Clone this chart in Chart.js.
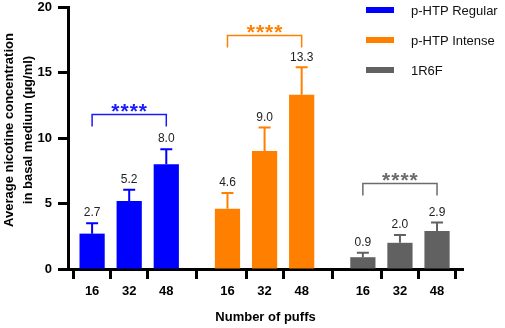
<!DOCTYPE html>
<html>
<head>
<meta charset="utf-8">
<script src="https://cdn.jsdelivr.net/npm/chart.js@4"></script>
<style>
  html, body { margin: 0; padding: 0; background: #fff; }
  #wrap { width: 505px; height: 328px; }
</style>
</head>
<body>
<div id="wrap"><canvas id="myChart" width="505" height="328"></canvas></div>
<script>
// data
const puffLabels = ["16", "32", "48"];
const productNames = ["p-HTP Regular", "p-HTP Intense", "1R6F"];
const regularMeans = [2.7, 5.2, 8.0];
const regularSD = [0.8, 0.85, 1.15];
const intenseMeans = [4.6, 9.0, 13.3];
const intenseSD = [1.2, 1.8, 2.1];
const refMeans = [0.9, 2.0, 2.9];
const refSD = [0.35, 0.6, 0.65];
const bracketLevels = [11.8, 17.9, 6.6];
const yTicks = [0, 5, 10, 15, 20];
const yTitle = ["Average nicotine concentration", "in basal medium (\u00b5g/ml)"];

const colors = ["#0000ff", "#ff8000", "#616161"];
const starColors = ["#1a1aff", "#ff8000", "#6b6b6b"];
const FONT = "'Liberation Sans', Arial, sans-serif";

// x position of each bar: groups of three, wider gap between groups
const groupStep = 3.65;
const xPos = (g, i) => g * groupStep + i;
const tickPositions = [];
[0, 1, 2].forEach((g) => puffLabels.forEach((p, i) => tickPositions.push(xPos(g, i))));

const means = [regularMeans, intenseMeans, refMeans];
const sds = [regularSD, intenseSD, refSD];

const datasets = productNames.map((name, g) => ({
  label: name,
  data: means[g].map((v, i) => ({ x: xPos(g, i), y: v })),
  sd: sds[g],
  backgroundColor: colors[g],
  borderWidth: 0,
  barPercentage: 0.68,
  categoryPercentage: 1,
  grouped: false,
}));

// error bars, value labels, brackets, legend, y title
const extras = {
  id: "extras",
  afterDatasetsDraw(chart) {
    const ctx = chart.ctx;
    const y = chart.scales.y;
    ctx.save();
    chart.data.datasets.forEach((ds, g) => {
      const meta = chart.getDatasetMeta(g);
      meta.data.forEach((bar, i) => {
        const yCap = y.getPixelForValue(ds.data[i].y + ds.sd[i]);
        ctx.strokeStyle = ds.backgroundColor;
        ctx.lineWidth = 2;
        ctx.beginPath();
        ctx.moveTo(bar.x, bar.y);
        ctx.lineTo(bar.x, yCap);
        ctx.moveTo(bar.x - 6, yCap);
        ctx.lineTo(bar.x + 6, yCap);
        ctx.stroke();
        ctx.fillStyle = "#222";
        ctx.font = "12px " + FONT;
        ctx.textAlign = "center";
        ctx.textBaseline = "bottom";
        ctx.fillText(ds.data[i].y.toFixed(1), bar.x, yCap - 4);
      });
      // significance bracket
      const x1 = meta.data[0].x;
      const x2 = meta.data[2].x;
      const yb = Math.round(y.getPixelForValue(bracketLevels[g])) + 0.5;
      ctx.strokeStyle = starColors[g];
      ctx.lineWidth = 1.5;
      ctx.beginPath();
      ctx.moveTo(x1, yb + 12);
      ctx.lineTo(x1, yb);
      ctx.lineTo(x2, yb);
      ctx.lineTo(x2, yb + 12);
      ctx.stroke();
      ctx.fillStyle = starColors[g];
      ctx.font = "bold 21px " + FONT;
      ctx.letterSpacing = "1px";
      ctx.textAlign = "center";
      ctx.textBaseline = "alphabetic";
      ctx.fillText("****", (x1 + x2) / 2 + 0.5, yb + 3);
      ctx.letterSpacing = "0px";
    });
    // legend
    chart.data.datasets.forEach((ds, g) => {
      const cy = 10 + g * 30;
      ctx.fillStyle = ds.backgroundColor;
      ctx.fillRect(366, cy - 3, 28, 6);
      ctx.fillStyle = "#111";
      ctx.font = "13px " + FONT;
      ctx.textAlign = "left";
      ctx.textBaseline = "middle";
      ctx.fillText(ds.label, 411, cy + 1);
    });
    // y axis title, two lines
    ctx.translate(0, 130);
    ctx.rotate(-Math.PI / 2);
    ctx.fillStyle = "#000";
    ctx.font = "bold 13px " + FONT;
    ctx.textAlign = "center";
    ctx.textBaseline = "middle";
    yTitle.forEach((t, k) => ctx.fillText(t, 0, 9.5 + k * 18.5));
    ctx.restore();
  },
};

const ctx = document.getElementById("myChart");
const myChart = new Chart(ctx, {
  type: "bar",
  data: { datasets: datasets },
  plugins: [extras],
  options: {
    responsive: false,
    animation: false,
    layout: { padding: { left: 0, right: 42, top: 7, bottom: 0 } },
    plugins: { legend: { display: false }, tooltip: { enabled: false } },
    scales: {
      x: {
        type: "linear",
        offset: false,
        min: -0.65,
        max: 10.0,
        afterBuildTicks: (axis) => {
          axis.ticks = tickPositions.map((v) => ({ value: v }));
        },
        afterFit: (axis) => {
          axis.height = 59;
        },
        ticks: {
          autoSkip: false,
          maxRotation: 0,
          padding: 5,
          color: "#000",
          font: { family: FONT, size: 13, weight: "bold" },
          callback: (v, i) => puffLabels[i % 3],
        },
        grid: {
          drawOnChartArea: false,
          tickLength: 10,
          tickWidth: 3,
          tickColor: "#000",
        },
        border: { display: true, width: 3, color: "#000" },
        title: {
          display: true,
          text: "Number of puffs",
          color: "#000",
          font: { family: FONT, size: 13, weight: "bold" },
          padding: { top: 0, bottom: 3 },
        },
      },
      y: {
        min: 0,
        max: 20,
        afterBuildTicks: (axis) => {
          axis.ticks = yTicks.map((v) => ({ value: v }));
        },
        afterFit: (axis) => {
          axis.width = 68;
          axis.paddingTop = 0;
        },
        ticks: {
          padding: 6,
          color: "#000",
          font: { family: FONT, size: 13, weight: "bold" },
        },
        grid: {
          drawOnChartArea: false,
          tickLength: 10,
          tickWidth: 3,
          tickColor: "#000",
        },
        border: { display: true, width: 3, color: "#000" },
      },
    },
  },
});
</script>
</body>
</html>
